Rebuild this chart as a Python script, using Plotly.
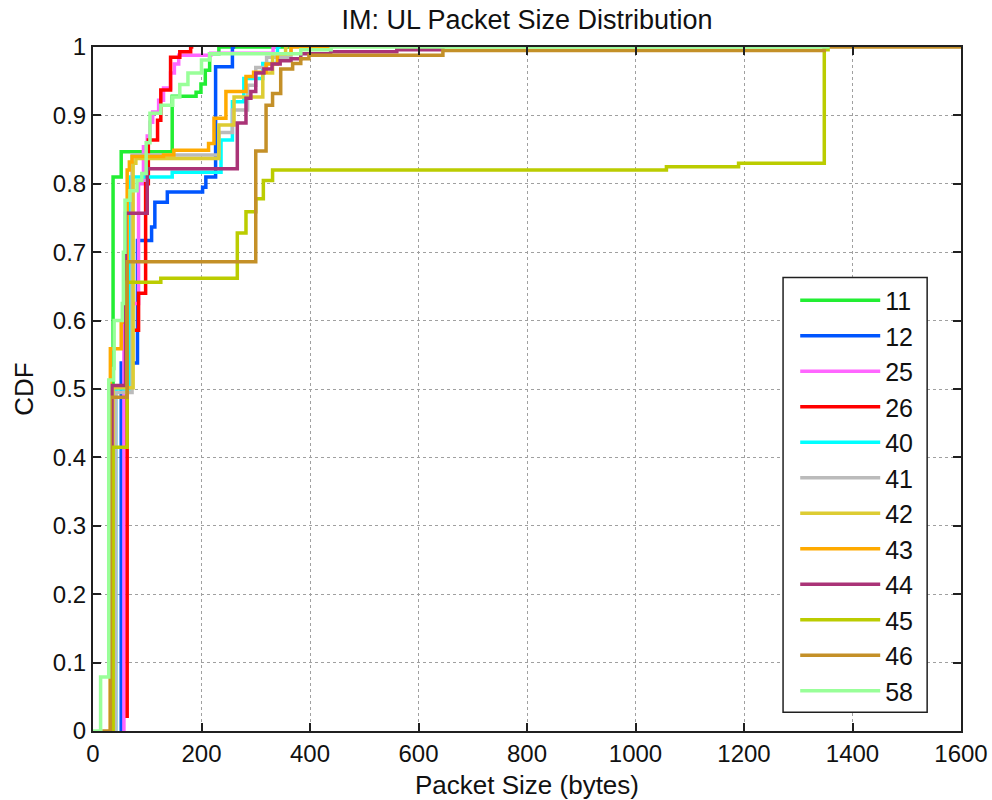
import plotly.graph_objects as go

# Series names (legend labels)
names = ["11", "12", "25", "26", "40", "41", "42", "43", "44", "45", "46", "58"]

colors = ["#22EE33", "#0055FF", "#FF66FF", "#FF0000", "#00FFFF", "#BBBBBB",
          "#DDCC33", "#FFAA00", "#AA3377", "#BBCC00", "#C49028", "#99FF99"]

# Step CDF points (packet size in bytes, CDF value after the step)
x_11 = [37, 37, 52, 146, 190, 199, 207, 215, 232, 368]
y_11 = [0, 0.81, 0.847, 0.928, 0.934, 0.946, 0.966, 0.99, 1.0, 1.0]

x_12 = [52, 52, 82, 108, 114, 137, 202, 208, 226, 257, 262]
y_12 = [0, 0.538, 0.717, 0.737, 0.773, 0.788, 0.795, 0.810, 0.971, 1.0, 1.0]

x_25 = [57, 57, 69, 84, 93, 100, 105, 110, 121, 130, 143, 150, 158, 217, 332, 340]
y_25 = [0, 0.60, 0.625, 0.80, 0.854, 0.87, 0.89, 0.905, 0.922, 0.94, 0.962, 0.975, 0.988, 0.991, 1.0, 1.0]

x_26 = [63, 63, 69, 84, 97, 102, 119, 125, 143, 160, 180, 185]
y_26 = [0.019, 0.58, 0.586, 0.64, 0.80, 0.864, 0.893, 0.937, 0.985, 0.993, 1.0, 1.0]

x_40 = [42, 42, 69, 146, 236, 257, 278, 313, 340, 346]
y_40 = [0, 0.50, 0.81, 0.817, 0.864, 0.920, 0.954, 0.976, 1.0, 1.0]

x_41 = [42, 42, 72, 232, 257, 285, 300, 320, 365, 368]
y_41 = [0, 0.495, 0.842, 0.875, 0.908, 0.944, 0.97, 0.985, 1.0, 1.0]

x_42 = [37, 37, 74, 79, 232, 260, 313, 331, 355, 360]
y_42 = [0, 0.502, 0.83, 0.837, 0.886, 0.927, 0.962, 0.99, 1.0, 1.0]

x_43 = [32, 32, 52, 60, 63, 67, 72, 130, 149, 213, 223, 245, 282, 296, 319, 340, 365, 440]
y_43 = [0, 0.559, 0.598, 0.62, 0.82, 0.832, 0.840, 0.842, 0.849, 0.859, 0.896, 0.935, 0.957, 0.963, 0.975, 0.99, 1.0, 1.0]

x_44 = [35, 35, 60, 100, 266, 282, 291, 300, 315, 330, 345, 365, 383, 438, 560, 645]
y_44 = [0, 0.505, 0.757, 0.822, 0.889, 0.925, 0.935, 0.962, 0.968, 0.975, 0.98, 0.983, 0.99, 0.993, 0.996, 1.0]

x_45 = [37, 37, 63, 125, 266, 282, 300, 314, 331, 1057, 1190, 1348, 1355]
y_45 = [0, 0.415, 0.656, 0.662, 0.728, 0.759, 0.778, 0.805, 0.820, 0.825, 0.830, 0.996, 1.0]

x_46 = [17, 32, 32, 63, 300, 319, 331, 346, 368, 383, 398, 645, 1348, 1600]
y_46 = [0, 0, 0.488, 0.686, 0.848, 0.915, 0.932, 0.968, 0.976, 0.983, 0.988, 0.995, 1.0, 1.0]

x_58 = [0, 14, 29, 38, 39, 54, 56, 59, 68, 81, 90, 98, 105, 125, 147, 160, 175, 200, 215, 383, 439, 1358]
y_58 = [0, 0.079, 0.513, 0.53, 0.60, 0.625, 0.70, 0.776, 0.79, 0.805, 0.815, 0.86, 0.903, 0.915, 0.927, 0.945, 0.962, 0.981, 0.99, 0.996, 1.0, 1.0]

xs = [x_11, x_12, x_25, x_26, x_40, x_41, x_42, x_43, x_44, x_45, x_46, x_58]
ys = [y_11, y_12, y_25, y_26, y_40, y_41, y_42, y_43, y_44, y_45, y_46, y_58]

x_ticks = [0, 200, 400, 600, 800, 1000, 1200, 1400, 1600]
y_ticks = [0, 0.1, 0.2, 0.3, 0.4, 0.5, 0.6, 0.7, 0.8, 0.9, 1]

FONT = "Liberation Sans, Arial, sans-serif"

fig = go.Figure()
for n, c, x, y in zip(names, colors, xs, ys):
    fig.add_trace(go.Scatter(x=x, y=y, mode="lines", name=n,
                             line=dict(color=c, width=3.5, shape="hv"),
                             cliponaxis=False))

axis_common = dict(
    showline=True, linecolor="#202020", linewidth=2, mirror="ticks",
    ticks="inside", ticklen=8, tickwidth=1.5, tickcolor="#202020",
    showgrid=True, gridcolor="#A0A0A0", gridwidth=1, griddash="dot",
    zeroline=False, automargin=False,
    tickfont=dict(family=FONT, size=24, color="#111"),
)

# legend frame (drawn as a white box under the legend entries)
fig.add_shape(type="rect", xref="paper", yref="paper",
              x0=0.795, x1=0.961, y0=0.0273, y1=0.663,
              line=dict(color="#202020", width=1.5), fillcolor="white", layer="above")

fig.update_layout(
    width=992, height=800,
    margin=dict(l=93, r=31, t=47, b=69),
    paper_bgcolor="white", plot_bgcolor="white",
    title=dict(text="IM: UL Packet Size Distribution", x=0.5, xref="paper",
               xanchor="center", y=1 - 20 / 800, yref="container", yanchor="middle",
               font=dict(family=FONT, size=27, color="#111")),
    xaxis=dict(range=[0, 1600], tickvals=x_ticks, ticktext=[str(v) for v in x_ticks],
               title=dict(text="Packet Size (bytes)", standoff=12,
                          font=dict(family=FONT, size=26, color="#111")),
               **axis_common),
    yaxis=dict(range=[0, 1], tickvals=y_ticks, ticktext=[("%g" % v) for v in y_ticks],
               title=dict(text="CDF", standoff=12,
                          font=dict(family=FONT, size=26, color="#111")),
               **axis_common),
    legend=dict(x=0.809, y=0.663, xanchor="left", yanchor="top",
                bgcolor="rgba(0,0,0,0)", borderwidth=0,
                font=dict(family=FONT, size=25, color="#111"),
                itemwidth=80, tracegroupgap=0),
    showlegend=True,
)

fig.write_html("out.html")
